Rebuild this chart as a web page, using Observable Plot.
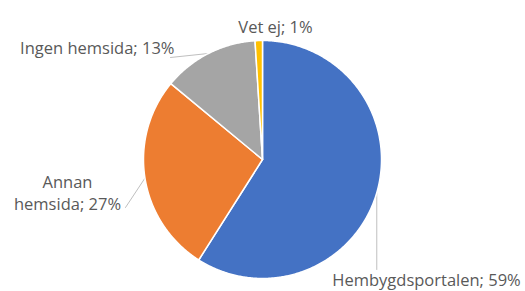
<!DOCTYPE html>
<html>
<head>
<meta charset="utf-8">
<script src="https://cdn.jsdelivr.net/npm/d3@7"></script>
<script src="https://cdn.jsdelivr.net/npm/@observablehq/plot@0.6"></script>
<style>
  html, body { margin: 0; padding: 0; background: #fff; }
</style>
</head>
<body>
<div id="chart"></div>
<script>
// ---- data ----
const categories = ["Hembygdsportalen", "Annan hemsida", "Ingen hemsida", "Vet ej"];
const values = [59, 27, 13, 1];
const labelTexts = ["Hembygdsportalen; 59%", "Annan\nhemsida; 27%", "Ingen hemsida; 13%", "Vet ej; 1%"];
const colors = ["#4472C4", "#ED7D31", "#A5A5A5", "#FFC000"];

// ---- layout (pixels) ----
const W = 525, H = 291;
const CX = 262, CY = 159, R = 119;
// label anchor (px), text anchor, leader line end (px) or null
const labelLayout = [
  {px: 426, py: 278, anchor: "middle", lx: null, ly: 269, vertical: true},
  {px: 67,  py: 191, anchor: "middle", lx: 125, ly: 207},
  {px: 174, py: 46,  anchor: "end",    lx: 170, ly: 57},
  {px: 275, py: 25,  anchor: "middle", lx: null, ly: null}
];

const toX = px => (px - CX) / R;
const toY = py => (CY - py) / R;

const arcs = d3.pie().sort(null).value(d => d)(values);

// slice polygons
const slicePts = [];
arcs.forEach((a, i) => {
  const cat = categories[i];
  slicePts.push({cat, x: 0, y: 0});
  const n = Math.max(4, Math.ceil((a.endAngle - a.startAngle) / (Math.PI / 360)));
  for (let k = 0; k <= n; k++) {
    const t = a.startAngle + (a.endAngle - a.startAngle) * k / n;
    slicePts.push({cat, x: Math.sin(t), y: Math.cos(t)});
  }
  slicePts.push({cat, x: 0, y: 0});
});

// labels
const labels = arcs.map((a, i) => ({
  text: labelTexts[i],
  x: toX(labelLayout[i].px),
  y: toY(labelLayout[i].py),
  anchor: labelLayout[i].anchor
}));

// leader lines from slice mid-angle edge to label
const leaders = [];
arcs.forEach((a, i) => {
  const L = labelLayout[i];
  if (L.ly == null) return;
  const m = (a.startAngle + a.endAngle) / 2;
  const sx = Math.sin(m), sy = Math.cos(m);
  const ex = L.vertical ? sx : toX(L.lx);
  leaders.push({id: i, x: sx, y: sy});
  leaders.push({id: i, x: ex, y: toY(L.ly)});
});

const chart = Plot.plot({
  width: W,
  height: H,
  margin: 0,
  x: {domain: [toX(0), toX(W)], axis: null},
  y: {domain: [toY(H), toY(0)], axis: null},
  color: {domain: categories, range: colors},
  style: {fontFamily: "'Open Sans', sans-serif", background: "#fff", color: "#595959"},
  marks: [
    Plot.line(leaders, {x: "x", y: "y", z: "id", stroke: "#bfbfbf", strokeWidth: 1}),
    Plot.line(slicePts, {x: "x", y: "y", z: "cat", fill: "cat", stroke: "#fff", strokeWidth: 1.5, strokeLinejoin: "round"}),
    Plot.text(labels.filter(d => d.anchor === "middle"), {x: "x", y: "y", text: "text", textAnchor: "middle", fill: "#595959", fontSize: 16.5, lineHeight: 1.35}),
    Plot.text(labels.filter(d => d.anchor === "end"), {x: "x", y: "y", text: "text", textAnchor: "end", fill: "#595959", fontSize: 16.5, lineHeight: 1.35})
  ]
});
document.getElementById("chart").appendChild(chart);
</script>
</body>
</html>
